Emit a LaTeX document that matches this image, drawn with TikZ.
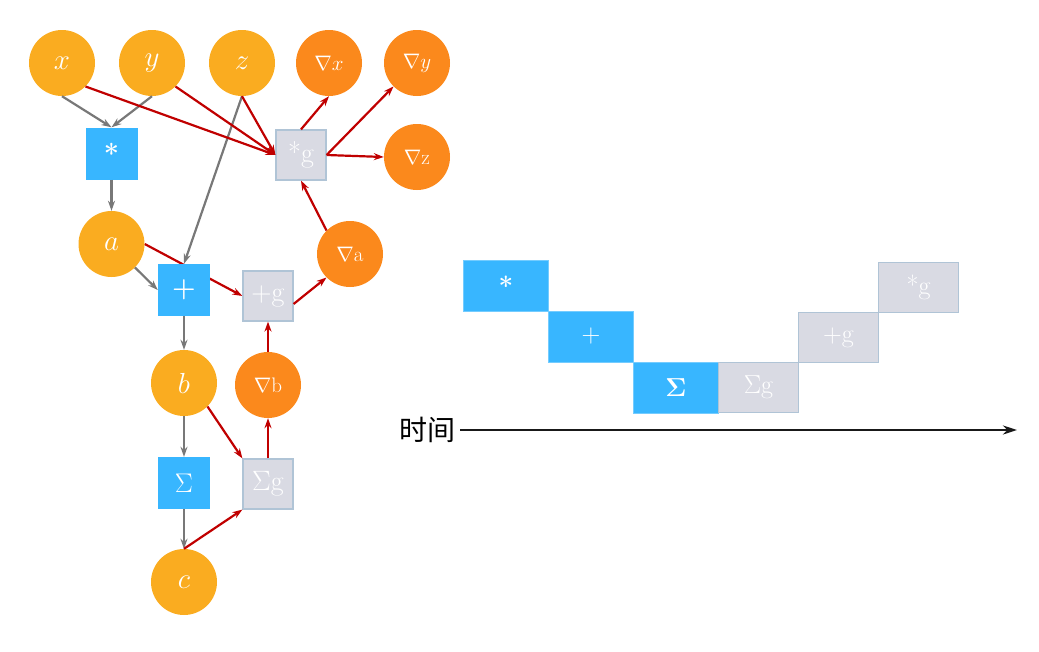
\RequirePackage{fix-cm}
\documentclass[tikz,border=0pt]{standalone}
\usepackage{amsmath}
\usepackage[no-math]{fontspec}
\newfontfamily\cjk{Noto Sans CJK SC}
\usepackage{tikz}
\usetikzlibrary{arrows.meta,positioning,backgrounds}
\definecolor{varorange}{RGB}{250,172,32}
\definecolor{gradorange}{RGB}{251,137,28}
\definecolor{opblue}{RGB}{56,182,255}
\definecolor{opgray}{RGB}{217,218,227}
\definecolor{opborder}{RGB}{176,196,214}
\definecolor{fwdgray}{RGB}{120,120,120}
\definecolor{bwdred}{RGB}{192,0,0}
\tikzstyle{var}=[circle,fill=varorange,text=white,minimum size=66pt,inner sep=0pt,font=\fontsize{29}{29}\selectfont]
\tikzstyle{grad}=[circle,fill=gradorange,text=white,minimum size=66pt,inner sep=0pt,font=\fontsize{21}{21}\selectfont]
\tikzstyle{op}=[rectangle,fill=opblue,text=white,minimum size=52pt,inner sep=0pt,font=\fontsize{27}{27}\selectfont]
\tikzstyle{opg}=[rectangle,fill=opgray,draw=opborder,line width=1.2pt,text=white,minimum size=50pt,inner sep=0pt,font=\fontsize{28}{28}\selectfont]
\tikzstyle{fwd}=[-{Stealth[length=10pt,width=7pt]},line width=2.2pt,color=fwdgray]
\tikzstyle{bwd}=[-{Stealth[length=10pt,width=7pt]},line width=2.2pt,color=bwdred]
\tikzstyle{tbox}=[rectangle,fill=opblue,draw=opblue!70!white,text=white,minimum width=85pt,minimum height=51pt,inner sep=0pt,outer sep=0pt,font=\fontsize{26}{26}\selectfont]
\tikzstyle{tboxg}=[rectangle,fill=opgray,draw=opborder,line width=1pt,text=white,minimum width=80pt,minimum height=50pt,inner sep=0pt,outer sep=0pt,font=\fontsize{26}{26}\selectfont]

\begin{document}
\begin{tikzpicture}[x=1pt,y=-1pt]
\useasboundingbox (0,0) rectangle (1039,651);
% forward graph
\node[var]  (x)    at (62,63)      {$x$};
\node[var]  (y)    at (152,63)     {$y$};
\node[var]  (z)    at (242,63)     {$z$};
\node[op]   (mul)  at (111.5,153.5) {\textbf{*}};
\node[var]  (a)    at (111.5,244)  {$a$};
\node[op]   (add)  at (184,290)    {$\boldsymbol{+}$};
\node[var]  (b)    at (184,383)    {$b$};
\node[op]   (sum)  at (184,483)    {$\Sigma$};
\node[var]  (c)    at (184,582)    {$c$};
% backward graph
\node[opg]  (mulg) at (301,155)    {*g};
\node[grad] (gx)   at (329,63)     {$\nabla x$};
\node[grad] (gy)   at (417,63)     {$\nabla y$};
\node[grad] (gz)   at (417,157)    {$\nabla$z};
\node[grad] (ga)   at (350,254)    {$\nabla$a};
\node[opg]  (addg) at (268,296)    {+g};
\node[grad] (gb)   at (268,385)    {$\nabla$b};
\node[opg]  (sumg) at (268,484)    {$\Sigma$g};

\path[fwd]	(x.south)	edge	(mul.north)
		(y.south)	edge	(mul.north)
		(mul)		edge	(a)
		(a.south east)	edge	(add.west)
		(z.south)	edge	(add.north)
		(add)		edge	(b)
		(b)		edge	(sum)
		(sum)		edge	(c);
\begin{pgfonlayer}{background}
\path[bwd]	(a.east)	edge	(addg.west); % passes under the + box
\end{pgfonlayer}
\path[bwd]	(x.south east)	edge	(mulg.west)
		(y.south east)	edge	(mulg.west)
		(z.south)	edge	(mulg.west)
		(mulg.north)	edge	(gx.south)
		(mulg.east)	edge	(gy.south west)
		(mulg.east)	edge	(gz.west)
		(ga.north west)	edge	(mulg.south)
		([yshift=-8pt]addg.east)	edge	(ga.south west)
		(gb)		edge	(addg)
		(sumg)		edge	(gb)
		(b.south east)	edge	(sumg.north west)
		(c.north)	edge	(sumg.south west);

% time line
\node[tbox]  (mul_t)  at (506,285.5)                          {\textbf{*}};
\node[tbox]  (add_t)  [below right=0pt and 0pt of mul_t]       {+};
\node[tbox]  (sum_t)  [below right=0pt and 0pt of add_t]       {$\mathbf{\Sigma}$};
\node[tboxg] (sumg_t) [right=0pt of sum_t]                     {$\Sigma$g};
\node[tboxg] (addg_t) [above right=0pt and 0pt of sumg_t]      {+g};
\node[tboxg] (mulg_t) [above right=0pt and 0pt of addg_t]      {*g};
\node[inner sep=0pt,font=\cjk\fontsize{28}{28}\selectfont] (time) at (427,430) {时间};
\coordinate (t_end) at (1017,430);
\draw[-{Stealth[length=14pt,width=9pt]},line width=2.6pt,draw=black!90,shorten <=5pt] (time.east) -- (t_end);
\end{tikzpicture}
\end{document}
